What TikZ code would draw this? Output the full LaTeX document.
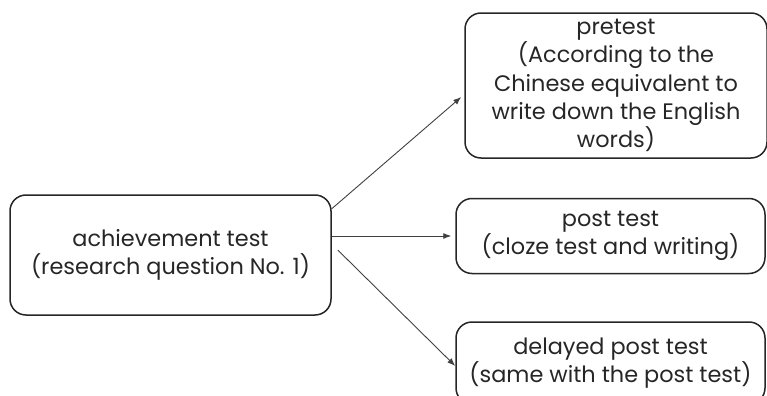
\documentclass[tikz,border=0pt]{standalone}
\usepackage{fontspec}
\setmainfont{Poppins}
\usepackage{tikz}
\usetikzlibrary{arrows.meta,positioning}
\definecolor{linegray}{HTML}{404040}
\definecolor{textgray}{HTML}{262626}

\begin{document}
\begin{tikzpicture}[
    x=0.5pt, y=-0.5pt,
    box/.style={rectangle, draw=black!85, line width=0.75pt, rounded corners=8pt, align=center, text=textgray, font=\fontsize{11.2}{14.1}\selectfont, inner sep=0pt},
    arrow/.style={-{Latex[length=4pt,width=3pt]}, draw=linegray, line width=0.45pt}
]
    \useasboundingbox (0,0) rectangle (767,396);
    \node[box, minimum width=160.5pt, minimum height=60pt] (achieve) at (170.5,255) {achievement test\\(research question No. 1)};
    \node[box, minimum width=151pt, minimum height=72.5pt] (pretest) at (616,85.5) {pretest\\(According to the\\Chinese equivalent to\\write down the English\\words)};
    \node[box, minimum width=154.5pt, minimum height=37.5pt] (post) at (610.5,236) {post test\\(cloze test and writing)};
    \node[box, minimum width=154.5pt, minimum height=41pt] (delayed) at (610.5,363) {delayed post test\\(same with the post test)};

    \draw[arrow] (achieve.16) -- ([xshift=-1.5pt,yshift=-5.75pt]pretest.west);
    \draw[arrow] (achieve.east |- post.west) -- ([xshift=-2pt]post.west);
    \draw[arrow] ([xshift=3pt,yshift=2.5pt]achieve.east) -- ([yshift=-1.5pt]delayed.west);
\end{tikzpicture}
\end{document}
